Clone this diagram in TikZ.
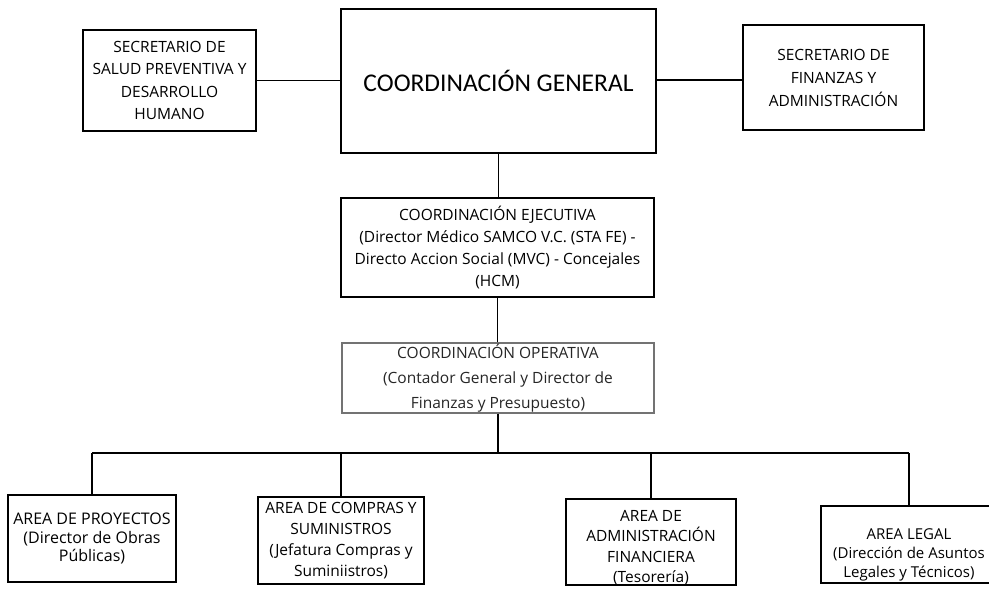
\documentclass[tikz,border=0pt]{standalone}
\usepackage{fontspec}
\setmainfont{Open Sans}
\newfontfamily\titlefont{Carlito}
\usetikzlibrary{positioning}
\definecolor{opegray}{rgb}{0.45,0.45,0.45}
\newcommand{\pushdown}[1]{\rule{0pt}{#1}}
\tikzset{
  unit/.style={draw=black, line width=1.6pt, align=center, inner sep=0pt,
    font=\fontsize{15.5}{22}\selectfont},
  opeunit/.style={unit, draw=opegray, line width=1.1pt, text=black!85},
  link/.style={draw=black, line width=1.4pt}
}
\begin{document}
\begin{tikzpicture}[x=1pt, y=-1pt]
	\clip (0,0) rectangle (989,593);
	\fill[white] (0,0) rectangle (989,593);
	
	% top row
	\node[unit, minimum width=315pt, minimum height=144pt,
	  font=\titlefont\fontsize{25.5}{30}\selectfont] (cg) at (498.5,81) {COORDINACIÓN GENERAL};
	\node[unit, minimum width=173pt, minimum height=101pt,
	  font=\fontsize{15.5}{22.5}\selectfont] (sal) at (169.5,80.5)
	  {SECRETARIO DE\\SALUD PREVENTIVA Y\\DESARROLLO\\HUMANO};
	\node[unit, minimum width=181pt, minimum height=105pt,
	  font=\fontsize{15.5}{23}\selectfont] (fin) at (833.5,77.5)
	  {SECRETARIO DE\\FINANZAS Y\\ADMINISTRACIÓN};
	
	% middle
	\node[unit, minimum width=313pt, minimum height=99pt] (eje) at (497.5,247.5)
	  {COORDINACIÓN EJECUTIVA\\(Director Médico SAMCO V.C. (STA FE) -\\Directo Accion Social (MVC) - Concejales\\(HCM)};
	\node[opeunit, minimum width=312pt, minimum height=70pt,
	  font=\fontsize{15.5}{25}\selectfont] (ope) at (498,378)
	  {COORDINACIÓN OPERATIVA\\(Contador General y Director de\\Finanzas y Presupuesto)};
	
	% areas
	\node[unit, minimum width=168pt, minimum height=87pt,
	  font=\fontsize{16}{18.5}\selectfont] (pro) at (92,538.5)
	  {AREA DE PROYECTOS\\(Director de Obras\\Públicas)};
	\node[unit, minimum width=166pt, minimum height=87pt,
	  font=\fontsize{15.5}{21}\selectfont] (com) at (341,540.5)
	  {AREA DE COMPRAS Y\\SUMINISTROS\\(Jefatura Compras y\\Suminiistros)};
	\node[unit, minimum width=170pt, minimum height=80pt,
	  font=\fontsize{15.5}{20.5}\selectfont] (adm) at (651,542)
	  {\pushdown{22pt}AREA DE\\ADMINISTRACIÓN\\FINANCIERA\\(Tesorería)};
	\node[unit, minimum width=176pt, minimum height=77pt,
	  font=\fontsize{15}{19}\selectfont] (leg) at (909,544.5)
	  {\pushdown{32pt}AREA LEGAL\\(Dirección de Asuntos\\Legales y Técnicos)};
	
	% connectors
	\coordinate (bar) at (496,453);
	\draw[link] (sal.east) -- (sal.east -| cg.west);
	\draw[link] (fin.west |- 0,80) -- (cg.east |- 0,80);
	\draw[link] (cg.south) -- (cg.south |- eje.north);
	\draw[link] (eje.south) -- (eje.south |- ope.north);
	\draw[link] (ope.south) -- (ope.south |- bar);
	\draw[link] (pro.north |- bar) -- (leg.north |- bar);
	\foreach \n in {pro,com,adm,leg}
	  \draw[link] (\n.north) -- (\n.north |- bar);
\end{tikzpicture}
\end{document}
